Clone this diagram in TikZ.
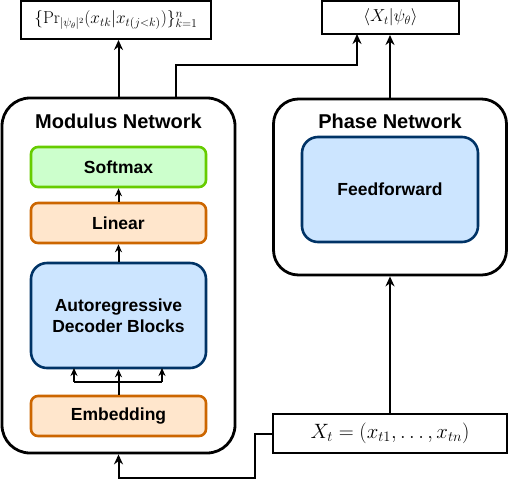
\documentclass[tikz,border=0pt]{standalone}
\usepackage[no-math]{fontspec}
\setmainfont{Liberation Sans}
\usetikzlibrary{arrows.meta,calc}
\definecolor{sfill}{HTML}{CCFFCC}
\definecolor{sdraw}{HTML}{66CC00}
\definecolor{ofill}{HTML}{FFE6CC}
\definecolor{odraw}{HTML}{CC6600}
\definecolor{bfill}{HTML}{CCE5FF}
\definecolor{bdraw}{HTML}{003366}
\tikzset{
  net/.style={draw, line width=2.8pt, rounded corners=28pt, inner sep=0pt},
  inner/.style={line width=2.6pt, rounded corners=7pt, inner sep=0pt, minimum width=175pt, minimum height=40pt, font=\fontsize{17.5}{21}\selectfont\bfseries, align=center},
  green/.style={inner, fill=sfill, draw=sdraw},
  orange/.style={inner, fill=ofill, draw=odraw},
  blue/.style={inner, fill=bfill, draw=bdraw, rounded corners=16pt},
  mbox/.style={draw, line width=2pt, inner sep=0pt, fill=white},
  ttl/.style={font=\fontsize{20}{24}\selectfont\bfseries},
  arr/.style={line width=2pt, -{Stealth[length=10pt,width=9pt]}},
  sarr/.style={line width=2pt, -{Stealth[length=8pt,width=7pt]}},
  ln/.style={line width=2pt}
}
\begin{document}
\begin{tikzpicture}[x=1pt,y=-1pt]
\useasboundingbox (0,0) rectangle (508,480);
% outer networks
\node[net, minimum width=233pt, minimum height=355pt] (mod) at (118.5,275.5) {};
\node[net, minimum width=233pt, minimum height=176pt, rounded corners=25pt] (pha) at (390,187) {};
\node[ttl] (modt) at (118.5,121) {Modulus Network};
\node[ttl] (phat) at (390,121) {Phase Network};
% inner boxes
\node[green] (soft) at (118.5,167) {Softmax};
\node[orange] (lin) at (118.5,223) {Linear};
\node[blue, minimum height=105pt] (ard) at (118.5,315.5) {Autoregressive\\Decoder Blocks};
\node[orange] (emb) at (118.5,416) {Embedding};
\node[blue, minimum width=176pt, minimum height=105pt] (ff) at (390,189.5) {Feedforward};
% math boxes
\node[mbox, minimum width=190pt, minimum height=38pt, font=\fontsize{17}{20}\selectfont] (pr) at (116,20) {$\{\Pr_{|\psi_\theta|^2}(x_{tk}|x_{t(j<k)})\}_{k=1}^n$};
\node[mbox, minimum width=137pt, minimum height=33pt, font=\fontsize{18}{21}\selectfont] (psi) at (390.5,17.5) {$\langle X_t|\psi_\theta\rangle$};
\node[mbox, minimum width=234pt, minimum height=39pt, font=\fontsize{19.5}{23}\selectfont] (xt) at (390,433.5) {$X_t=(x_{t1},\ldots,x_{tn})$};
% connectors
\draw[sarr] (lin.north) -- (soft.south);
\draw[sarr] (ard.north) -- (lin.south);
\coordinate (fork) at (118.5,382);
\draw[sarr] (emb.north) -- (ard.south);
\draw[ln] (74,382) -- (162,382);
\draw[sarr] (74,382) -- (74,368);
\draw[sarr] (162,382) -- (162,368);
\draw[arr] (mod.north) -- (pr.south -| mod.north);
\coordinate (m2) at (176,98);
\coordinate (p2) at (357,34);
\draw[arr] (m2) -- (176,65) -- (357,65) -- (p2);
\draw[arr] (pha.north) -- (psi.south -| pha.north);
\draw[arr] (xt.north -| pha.south) -- (pha.south);
\coordinate (b1) at (255,434);
\draw[arr] (xt.west |- b1) -- (b1) -- (255,478) -- (118.5,478) -- (mod.south);
\end{tikzpicture}
\end{document}
